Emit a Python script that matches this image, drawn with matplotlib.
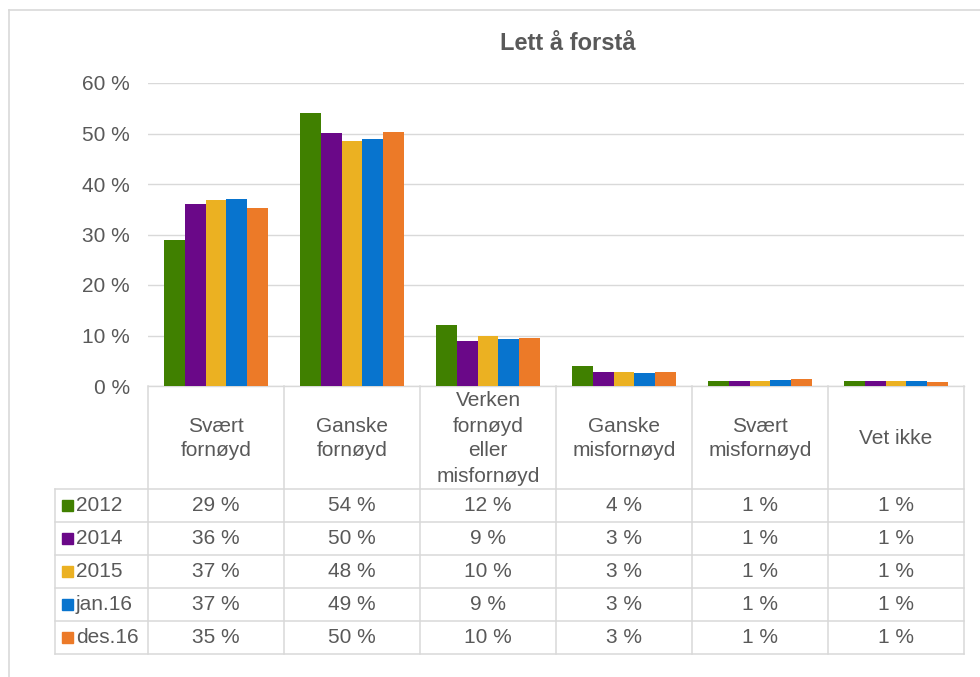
import matplotlib
matplotlib.use("Agg")
import matplotlib.pyplot as plt
import numpy as np

plt.rcParams['font.family'] = ['Liberation Sans', 'DejaVu Sans']

title = "Lett å forstå"
categories = ["Svært\nfornøyd", "Ganske\nfornøyd", "Verken\nfornøyd\neller\nmisfornøyd",
              "Ganske\nmisfornøyd", "Svært\nmisfornøyd", "Vet ikke"]
series = ["2012", "2014", "2015", "jan.16", "des.16"]
v2012 = [29.0, 54.1, 12.1, 3.9, 0.9, 0.9]
v2014 = [36.0, 50.1, 8.9, 2.8, 0.9, 0.9]
v2015 = [36.8, 48.5, 10.0, 2.8, 0.9, 0.9]
vjan16 = [37.0, 48.9, 9.4, 2.6, 1.1, 0.9]
vdes16 = [35.2, 50.3, 9.6, 2.8, 1.3, 0.7]
values = [v2012, v2014, v2015, vjan16, vdes16]
colors = ["#408000", "#6a0888", "#ebb122", "#0874ce", "#ec7a28"]
yticks = [0, 10, 20, 30, 40, 50, 60]

W, H = 980, 677
TXT = "#595959"
GRID = "#d9d9d9"
FS = 15

fig = plt.figure(figsize=(W / 100, H / 100), dpi=100)

# pixel geometry
L, R, T, B = 148, 964, 83, 386
ax = fig.add_axes([L / W, 1 - B / H, (R - L) / W, (B - T) / H])
n = len(series)
x = np.arange(len(categories))
bw = 0.77 / n
for i, (s, vals, c) in enumerate(zip(series, values, colors)):
    ax.bar(x + (i - (n - 1) / 2) * bw, vals, width=bw, color=c, zorder=3)
ax.set_xlim(-0.5, len(categories) - 0.5)
ax.set_ylim(0, 60)
ax.set_yticks(yticks)
ax.set_yticklabels([f"{t} %" for t in yticks], color=TXT, fontsize=FS)
ax.set_xticks([])
ax.tick_params(axis='y', length=0, pad=13)
ax.grid(axis='y', color=GRID, lw=1.0, zorder=0)
for sp in ['top', 'right', 'left']:
    ax.spines[sp].set_visible(False)
ax.spines['bottom'].set_color(GRID)
ax.spines['bottom'].set_linewidth(1.0)
ax.set_facecolor('none')

# overlay axes in pixel coordinates for table, title and frame
tax = fig.add_axes([0, 0, 1, 1], zorder=-1)
tax.set_xlim(0, W)
tax.set_ylim(H, 0)
tax.axis('off')

tax.text(568, 44, title, ha='center', va='center', fontsize=17, fontweight='bold', color=TXT)

# frame (top and left only visible)
tax.plot([9, W], [10, 10], color=GRID, lw=1.2)
tax.plot([9, 9], [10, H], color=GRID, lw=1.2)

# table
colw = (R - L) / len(categories)
col_edges = [L + k * colw for k in range(len(categories) + 1)]
hdr_bottom = 489
row_h = 33
leg_left = 55
row_edges = [hdr_bottom + k * row_h for k in range(n + 1)]
lw_t = 1.1
for xe in col_edges:
    tax.plot([xe, xe], [B, row_edges[-1]], color=GRID, lw=lw_t)
tax.plot([leg_left, leg_left], [hdr_bottom, row_edges[-1]], color=GRID, lw=lw_t)
for ye in row_edges:
    tax.plot([leg_left, R], [ye, ye], color=GRID, lw=lw_t)

for j, cat in enumerate(categories):
    cx = (col_edges[j] + col_edges[j + 1]) / 2
    tax.text(cx, (B + hdr_bottom) / 2 + 1, cat, ha='center', va='center', fontsize=FS,
             color=TXT, linespacing=1.4)

for i, (s, vals, c) in enumerate(zip(series, values, colors)):
    cy = (row_edges[i] + row_edges[i + 1]) / 2
    tax.add_patch(plt.Rectangle((62, cy - 5.5), 11, 11, color=c))
    tax.text(76, cy, s, ha='left', va='center', fontsize=FS, color=TXT)
    for j, v in enumerate(vals):
        cx = (col_edges[j] + col_edges[j + 1]) / 2
        tax.text(cx, cy, f"{v:.0f} %", ha='center', va='center', fontsize=FS, color=TXT)

fig.savefig("out.png", dpi=100)
